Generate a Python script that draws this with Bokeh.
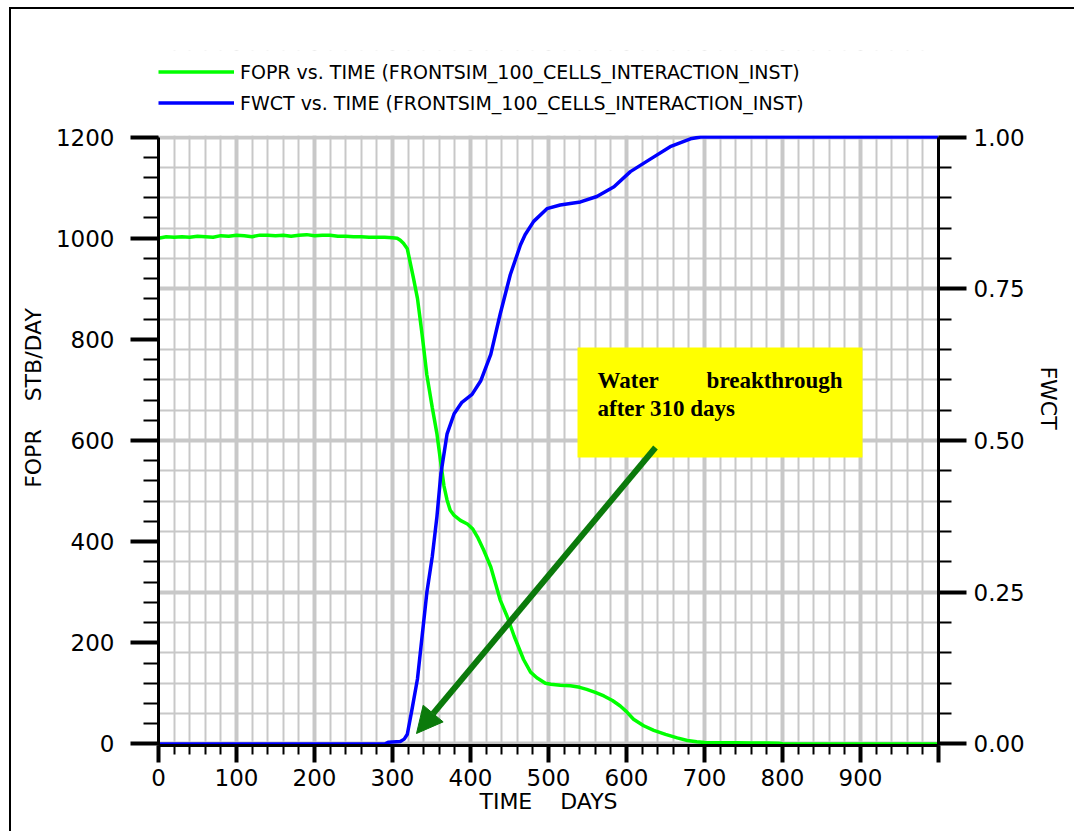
import math
from bokeh.plotting import figure
from bokeh.models import (Range1d, LinearAxis, SingleIntervalTicker, FixedTicker, Grid, Label,
                          BoxAnnotation, Arrow, NormalHead, Legend, LegendItem, NumeralTickFormatter)
from bokeh.embed import file_html
from bokeh.resources import INLINE

# ---------------- data ----------------
days_fopr = [0, 10, 20, 30, 40, 50, 60, 70, 80, 90, 100, 110, 120, 130, 140, 150, 160, 170, 180, 190,
             200, 210, 220, 230, 240, 250, 260, 270, 280, 290, 300, 306, 310, 314, 319, 327, 332, 338,
             344, 351, 357, 362, 366, 370, 374, 379, 387, 396, 403, 409, 417, 426, 438, 447, 456, 468,
             477, 485, 496, 503, 515, 528, 540, 549, 560, 571, 582, 592, 600, 609, 622, 635, 650, 665,
             678, 690, 700, 720, 740, 760, 780, 795, 800, 850, 900, 950, 1000]
fopr = [1000, 1003, 1002, 1003, 1002, 1004, 1003, 1002, 1005, 1004, 1006, 1005, 1003, 1006, 1006, 1005,
        1006, 1004, 1006, 1007, 1005, 1006, 1006, 1004, 1004, 1003, 1003, 1002, 1002, 1002, 1001, 1000,
        996, 990, 979, 920, 881, 809, 730, 665, 613, 555, 510, 482, 462, 452, 442, 435, 425, 409, 383,
        350, 285, 252, 213, 167, 142, 131, 120, 118, 116, 115, 112, 108, 102, 95, 86, 75, 64, 49, 36,
        27, 19, 12, 7, 4.5, 3, 2.5, 2.5, 2, 2, 1.5, 0.5, 0, 0, 0, 0]

days_fwct = [0, 100, 200, 290, 295, 310, 315, 319, 325, 332, 338, 344, 351, 357, 362, 370, 379, 389,
             402, 413, 426, 438, 451, 464, 470, 481, 498, 515, 530, 541, 562, 584, 605, 631, 656, 682,
             695, 705, 800, 900, 1000]
fwct = [0, 0, 0, 0, 0.003, 0.004, 0.008, 0.016, 0.057, 0.107, 0.178, 0.249, 0.309, 0.375, 0.445,
        0.511, 0.544, 0.563, 0.576, 0.598, 0.642, 0.708, 0.773, 0.822, 0.839, 0.861, 0.882, 0.888,
        0.891, 0.893, 0.902, 0.918, 0.943, 0.964, 0.984, 0.997, 1.0, 1.0, 1.0, 1.0, 1.0]

x_ticks = [0, 100, 200, 300, 400, 500, 600, 700, 800, 900, 1000]
x_minor = list(range(0, 1001, 20))
left_ticks = [0, 200, 400, 600, 800, 1000, 1200]
left_minor = list(range(0, 1201, 40))
right_ticks = [0.0, 0.25, 0.5, 0.75, 1.0]
right_minor = [i * 0.05 for i in range(21)]

series_names = ["FOPR vs. TIME (FRONTSIM_100_CELLS_INTERACTION_INST)",
                "FWCT vs. TIME (FRONTSIM_100_CELLS_INTERACTION_INST)"]
x_title = "TIME\u00a0\u00a0\u00a0\u00a0DAYS"
left_title = "FOPR\u00a0\u00a0\u00a0\u00a0STB/DAY"
right_title = "FWCT"
note_words = ["Water", "breakthrough", "after 310 days"]

# ---------------- layout (absolute window pixels) ----------------
# The plotting area is 158..938 x 135..745; the frame is extended upwards to y=50
# so that the legend (drawn inside the frame) sits above the chart area.
FL, FR, FT, FB = 158, 938, 135, 745
TOP = 50
W, H = 1074, 831
Y0, Y1 = -3, 1203                        # visible FOPR span of the chart area
Y_TOP = Y0 + (FB - TOP) * (Y1 - Y0) / (FB - FT)

def dx(px):
    return (px - FL) / (FR - FL) * 1000
def dy(py):
    return Y0 + (FB - py) * (Y1 - Y0) / (FB - FT)

GREEN = "#00ff00"
BLUE = "#0000ff"
ARROW = "#0b7a0b"
GRIDC = "#c8c8c8"
FONT = "DejaVu Sans"

p = figure(frame_width=FR - FL, frame_height=FB - TOP,
           min_border_left=FL, min_border_right=W - FR, min_border_top=TOP, min_border_bottom=H - FB,
           x_range=Range1d(0, 1000), y_range=Range1d(Y0, Y_TOP),
           output_backend="svg", toolbar_location=None)
p.title.visible = False
p.extra_y_ranges = {"fwct": Range1d(Y0 / 1200, Y_TOP / 1200)}
p.outline_line_color = None
p.background_fill_color = "white"
p.border_fill_color = "white"
p.border_fill_alpha = 0
# thin outer page frame (left and top edges), painted behind the transparent border area
p.styles = {"background-color": "white",
            "background-image": "linear-gradient(#000, #000), linear-gradient(#000, #000)",
            "background-size": "2px 100%, 100% 2px",
            "background-position": "9px 7px, 9px 7px",
            "background-repeat": "no-repeat"}

# grids
p.xgrid.ticker = SingleIntervalTicker(interval=20)
p.xgrid.grid_line_color = GRIDC
p.xgrid.grid_line_width = 2
p.ygrid.ticker = SingleIntervalTicker(interval=60)
p.ygrid.grid_line_color = GRIDC
p.ygrid.grid_line_width = 2
p.add_layout(Grid(dimension=0, ticker=SingleIntervalTicker(interval=100),
                  grid_line_color=GRIDC, grid_line_width=4))
p.add_layout(Grid(dimension=1, ticker=SingleIntervalTicker(interval=300),
                  grid_line_color=GRIDC, grid_line_width=4))

def style_axis(ax, tick_out, minor_out):
    ax.axis_line_color = "black"
    ax.axis_line_width = 3
    ax.major_tick_line_color = "black"
    ax.major_tick_line_width = 4
    ax.major_tick_in = 0
    ax.major_tick_out = tick_out
    ax.minor_tick_line_color = "black"
    ax.minor_tick_line_width = 2
    ax.minor_tick_in = 0
    ax.minor_tick_out = minor_out
    ax.major_label_text_font = FONT
    ax.major_label_text_font_size = "23px"
    ax.major_label_text_color = "black"
    ax.axis_label_text_font = FONT
    ax.axis_label_text_font_size = "22px"
    ax.axis_label_text_font_style = "normal"
    ax.axis_label_text_color = "black"

xa = p.xaxis[0]
xa.ticker = FixedTicker(ticks=x_ticks, minor_ticks=x_minor)
xa.major_label_overrides = {1000: ""}
style_axis(xa, 17, 9)
xa.major_label_standoff = 6
xa.axis_label = x_title
xa.axis_label_standoff = 0

ya = p.yaxis[0]
ya.ticker = FixedTicker(ticks=left_ticks, minor_ticks=left_minor)
ya.bounds = (Y0, 1200)
style_axis(ya, 28, 15)
ya.major_label_standoff = 16
ya.axis_label = left_title
ya.axis_label_standoff = 7

ra = LinearAxis(y_range_name="fwct", ticker=FixedTicker(ticks=right_ticks, minor_ticks=right_minor),
                formatter=NumeralTickFormatter(format="0.00"), bounds=(Y0 / 1200, 1.0))
style_axis(ra, 28, 13)
ra.major_label_standoff = 7
ra.axis_label = right_title
ra.axis_label_standoff = 8
p.add_layout(ra, "right")

# curves
r1 = p.line(days_fopr, fopr, line_color=GREEN, line_width=3.5)
r2 = p.line(days_fwct, fwct, y_range_name="fwct", line_color=BLUE, line_width=3.5)

# white band hiding the grid above the chart area
p.add_layout(BoxAnnotation(bottom=Y1, fill_color="white", fill_alpha=1, line_color=None))

# legend in the band above the chart area
legend = Legend(items=[LegendItem(label=series_names[0], renderers=[r1]),
                       LegendItem(label=series_names[1], renderers=[r2])],
                location=(0, FB - 114), orientation="vertical",
                glyph_width=76, glyph_height=23, label_height=23, label_standoff=6, spacing=8,
                padding=0, margin=0, border_line_color=None, background_fill_alpha=0,
                label_text_font=FONT, label_text_font_size="19px", label_text_color="black")
p.add_layout(legend, "center")

# annotation box + arrow
p.add_layout(BoxAnnotation(left=dx(577), right=dx(862), top=dy(347), bottom=dy(457),
                           fill_color="#ffff00", fill_alpha=1, line_color=None))
NOTE_FONT = dict(text_font="Liberation Serif", text_font_style="bold", text_font_size="23px",
                 text_color="black", text_baseline="alphabetic")
p.add_layout(Label(x=dx(597), y=dy(380), text=note_words[0], text_align="left", **NOTE_FONT))
p.add_layout(Label(x=dx(842), y=dy(380), text=note_words[1], text_align="right", **NOTE_FONT))
p.add_layout(Label(x=dx(597), y=dy(408), text=note_words[2], text_align="left", **NOTE_FONT))
p.add_layout(Arrow(x_start=dx(655), y_start=dy(447), x_end=dx(416), y_end=dy(733),
                   line_color=ARROW, line_width=6,
                   end=NormalHead(size=26, fill_color=ARROW, line_color=ARROW, line_width=1)))

open("out.html", "w").write(file_html(p, INLINE))
